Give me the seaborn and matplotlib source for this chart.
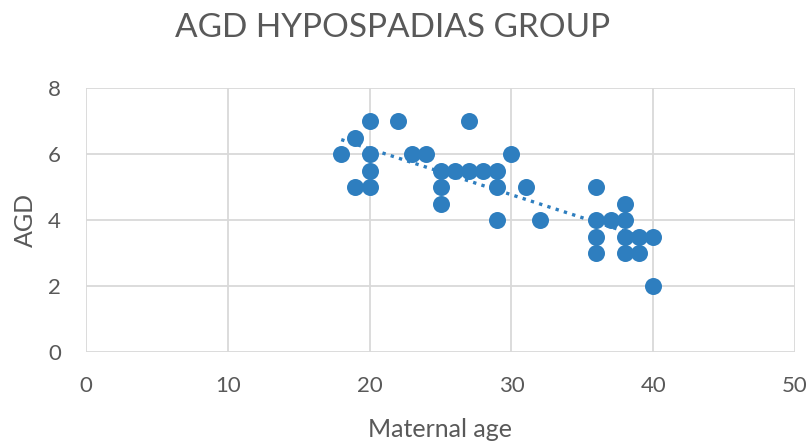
import numpy as np
import pandas as pd
import matplotlib
matplotlib.use("Agg")
import matplotlib.pyplot as plt
import seaborn as sns

maternal_age = [18, 19, 19, 20, 20, 20, 20, 22, 23, 24, 25, 25, 25, 26, 27, 27, 28,
                29, 29, 29, 30, 31, 32, 36, 36, 36, 36, 37, 38, 38, 38, 38, 39, 39, 40, 40]
agd = [6, 6.5, 5, 7, 6, 5.5, 5, 7, 6, 6, 5.5, 5, 4.5, 5.5, 7, 5.5, 5.5,
       5.5, 5, 4, 6, 5, 4, 5, 4, 3.5, 3, 4, 4.5, 4, 3.5, 3, 3.5, 3, 3.5, 2]

df = pd.DataFrame({"Maternal age": maternal_age, "AGD": agd})

sns.set_theme(style="white")
plt.rcParams['font.family'] = ['Lato', 'DejaVu Sans']
gray = "#595959"

fig = plt.figure(figsize=(8.11, 4.47), dpi=100)
ax = fig.add_axes([86/811, 1-352/447, (795-86)/811, (352-88)/447])

sns.regplot(data=df, x="Maternal age", y="AGD", ax=ax, ci=None,
            scatter_kws=dict(s=150, color="#2e7ebf", alpha=1, linewidths=0, zorder=3),
            line_kws=dict(color="#2e7ebf", linestyle=(0, (1, 1.6)), linewidth=2.4, zorder=2))

ax.set_xlim(0, 50)
ax.set_ylim(0, 8)
ax.set_xticks([0, 10, 20, 30, 40, 50])
ax.set_yticks([0, 2, 4, 6, 8])
ax.grid(True, color="#d9d9d9", linewidth=1.3)
ax.set_axisbelow(True)
for s in ax.spines.values():
    s.set_visible(False)
ax.tick_params(axis='x', colors=gray, labelsize=16, length=0, pad=17)
ax.tick_params(axis='y', colors=gray, labelsize=16, length=0, pad=18)
ax.set_xlabel("Maternal age", color=gray, fontsize=18, labelpad=16)
ax.set_ylabel("AGD", color=gray, fontsize=18, labelpad=8)
fig.text(393/811, 1-28/447, "AGD HYPOSPADIAS GROUP", color=gray, fontsize=24,
         ha="center", va="center")

fig.savefig("out.png", dpi=100)
